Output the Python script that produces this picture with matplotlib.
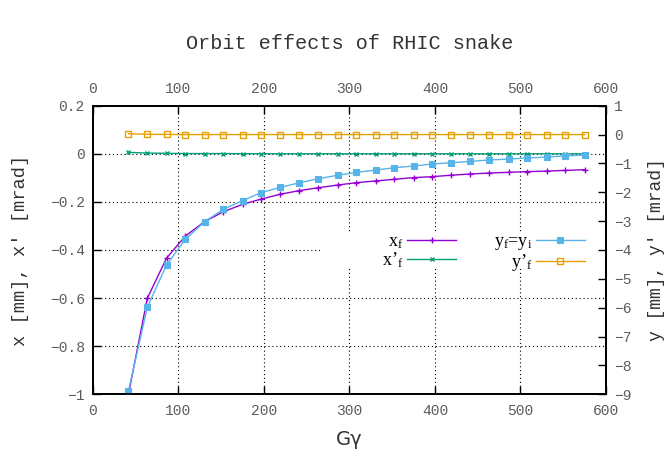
import matplotlib
matplotlib.use('Agg')
import matplotlib.pyplot as plt
from matplotlib.patches import Rectangle

# G*gamma values of the computed points
g_gamma = [41.5, 63.5, 86, 108, 130.5, 152.5, 175, 197, 219, 241.5, 263.5, 286, 308,
           330.5, 352.5, 375, 397, 419, 441.5, 463.5, 486, 508, 530.5, 552.5, 575]

# horizontal orbit (left axis)
x_f = [-1.0, -0.601, -0.434, -0.342, -0.282, -0.241, -0.210, -0.188, -0.168, -0.153,
       -0.141, -0.130, -0.120, -0.113, -0.106, -0.099, -0.095, -0.089, -0.084, -0.080,
       -0.077, -0.074, -0.072, -0.069, -0.066]
xp_f = [0.006, 0.003, 0.002, 0.001, 0.001, 0.001, 0.0005, 0.0005, 0.0, 0.0,
        0.0, 0.0, 0.0, 0.0, 0.0, 0.0, 0.0, 0.0, 0.0, 0.0,
        0.0, 0.0, 0.0, 0.0, 0.0]

# vertical orbit (right axis)
y_f = [-8.88, -5.99, -4.52, -3.63, -3.02, -2.59, -2.29, -2.01, -1.83, -1.67,
       -1.53, -1.41, -1.31, -1.23, -1.15, -1.09, -1.02, -0.975, -0.93, -0.88,
       -0.85, -0.81, -0.78, -0.74, -0.71]
yp_f = [0.03, 0.01, 0.005, 0.0, 0.0, 0.0, 0.0, 0.0, 0.0, 0.0,
        0.0, 0.0, 0.0, 0.0, 0.0, 0.0, 0.0, 0.0, 0.0, 0.0,
        0.0, 0.0, 0.0, 0.0, 0.0]

x_ticks = [0, 100, 200, 300, 400, 500, 600]
y_ticks = [-1, -0.8, -0.6, -0.4, -0.2, 0, 0.2]
y_tick_labels = ['−1', '−0.8', '−0.6', '−0.4', '−0.2', '0', '0.2']
y2_ticks = [-9, -8, -7, -6, -5, -4, -3, -2, -1, 0, 1]

plt.rcParams['mathtext.fontset'] = 'custom'
plt.rcParams['mathtext.rm'] = 'Liberation Serif'
plt.rcParams['mathtext.it'] = 'Liberation Serif:italic'

mono = ['Liberation Mono', 'DejaVu Sans Mono']
gray = '#5c5c5c'

fig = plt.figure(figsize=(6.67, 4.58), dpi=100)
ax = fig.add_axes([0.1394, 0.1391, 0.7691, 0.6301])
ax2 = ax.twinx()

l1, = ax.plot(g_gamma, x_f, color='#9400d3', lw=1.0, marker='+', ms=5, mew=1.0,
              label=r'x$_\mathrm{f}$')
l2, = ax.plot(g_gamma, xp_f, color='#009e73', lw=1.0, marker='x', ms=3.5, mew=1.0,
              label=r'x’$_\mathrm{f}$')
l3, = ax2.plot(g_gamma, y_f, color='#56b4e9', lw=1.0, marker='s', ms=4, mew=0.8,
               label=r'y$_\mathrm{f}$=y$_\mathrm{i}$')
l4, = ax2.plot(g_gamma, yp_f, color='#e69f00', lw=1.0, marker='s', ms=4.5, mew=1.0,
               mfc='none', label=r'y’$_\mathrm{f}$')

ax.set_xlim(0, 600)
ax.set_ylim(-1, 0.2)
ax2.set_ylim(-9, 1)

ax.set_xticks(x_ticks)
ax.set_yticks(y_ticks)
ax.set_yticklabels(y_tick_labels)
ax2.set_yticks(y2_ticks)

ax.set_axisbelow(True)
ax.grid(True, color='black', linestyle=(0, (1, 2.5)), linewidth=0.8)

# opaque key background hides the grid behind it
ax.add_patch(Rectangle((265, -0.475), 335, 0.15, facecolor='white',
                       edgecolor='none', zorder=1))

ax.tick_params(axis='x', which='major', top=True, labeltop=True, direction='in',
               length=6, width=1, pad=7, labelsize=10.5, labelcolor=gray)
ax.tick_params(axis='y', which='major', right=False, direction='in',
               length=6, width=1, pad=6, labelsize=10.5, labelcolor=gray)
ax2.tick_params(axis='y', which='major', direction='in', length=6, width=1,
                pad=6, labelsize=10.5, labelcolor=gray)
for lab in ax.get_xticklabels() + ax.get_yticklabels() + ax2.get_yticklabels():
    lab.set_family(mono)

for a in (ax, ax2):
    for sp in a.spines.values():
        sp.set_linewidth(1.3)

leg = ax2.legend([l1, l2, l3, l4], [l1.get_label(), l2.get_label(), l3.get_label(), l4.get_label()],
                 ncol=2, markerfirst=False, frameon=False, loc='center right',
                 bbox_to_anchor=(0.959, 0.490), borderaxespad=0, borderpad=0,
                 handlelength=2.72, handletextpad=0.2, columnspacing=2.08,
                 labelspacing=0.0, prop={'family': 'Liberation Serif', 'size': 13})

fig.text(0.524, 0.906, 'Orbit effects of RHIC snake', ha='center', va='center',
         family=mono, fontsize=14.5, color='#333333')
fig.text(0.524, 0.040, 'Gγ', ha='center', va='center', fontsize=14, color='#333333')
fig.text(0.030, 0.454, 'x [mm], x′ [mrad]', ha='center', va='center', rotation=90,
         family=mono, fontsize=13.5, color='#333333')
fig.text(0.984, 0.454, 'y [mm], y′ [mrad]', ha='center', va='center', rotation=90,
         family=mono, fontsize=13, color='#333333')

fig.savefig('out.png', dpi=100)
